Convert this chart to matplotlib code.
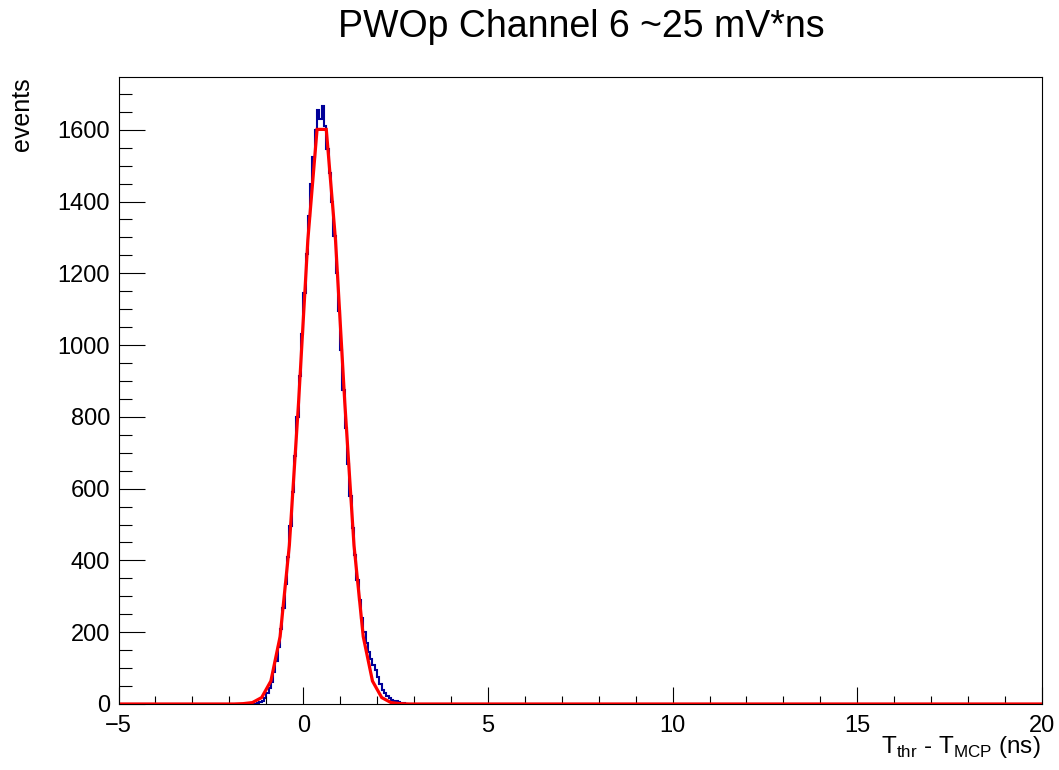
import matplotlib
matplotlib.use("Agg")
import matplotlib.pyplot as plt
import numpy as np

# histogram: 400 bins over [-5, 20] ns, only the populated stretch is listed
bin_width = 0.0625
x_range = (-5.0, 20.0)
first_edge = -1.375
counts = [0, 1, 2, 5, 9, 18, 30, 45, 62, 88, 120, 160, 210, 268, 335, 410,
          495, 590, 690, 800, 915, 1030, 1145, 1255, 1360, 1450, 1525, 1600,
          1655, 1630, 1665, 1610, 1545, 1480, 1400, 1305, 1200, 1095, 985,
          875, 770, 670, 580, 490, 415, 345, 290, 240, 200, 170, 145, 125,
          110, 95, 75, 55, 38, 30, 22, 18, 12, 9, 7, 5, 4, 2, 1]

# gaussian fit as drawn (polyline)
fit_x = [-5.0, -1.875, -1.625, -1.375, -1.125, -0.875, -0.625, -0.375, -0.125,
         0.125, 0.375, 0.625, 0.875, 1.125, 1.375, 1.625, 1.875, 2.125,
         2.375, 2.625, 2.875, 20.0]
fit_y = [0, 0, 1, 4, 18, 64, 188, 442, 841, 1292, 1601, 1601, 1292, 841,
         442, 188, 64, 18, 4, 1, 0, 0]

title = "PWOp Channel 6 ~25 mV*ns"
xlabel = r"T$_{\mathregular{thr}}$ - T$_{\mathregular{MCP}}$ (ns)"
ylabel = "events"

plt.rcParams["font.family"] = ["Liberation Sans", "DejaVu Sans"]

W, H = 1059, 770
fig = plt.figure(figsize=(W / 100, H / 100), dpi=100)
ax = fig.add_axes([118.5 / W, 1 - 704 / H, (1042 - 118.5) / W, (704 - 77) / H])

edges = np.arange(x_range[0], x_range[1] + bin_width / 2, bin_width)
full = np.zeros(len(edges) - 1)
i0 = int(round((first_edge - x_range[0]) / bin_width))
full[i0:i0 + len(counts)] = counts

ax.stairs(full, edges, color="#000099", lw=1.5)
ax.plot(fit_x, fit_y, color="#ff0000", lw=2.3, solid_joinstyle="miter")

ax.set_xlim(*x_range)
ax.set_ylim(0, 1747)
ax.set_xticks(np.arange(-5, 21, 5))
ax.set_xticks(np.arange(-5, 21, 1), minor=True)
ax.set_yticks(np.arange(0, 1700, 200))
ax.set_yticks(np.arange(0, 1750, 50), minor=True)

ax.tick_params(axis="both", which="both", direction="in", top=False, right=False,
               labelsize=17, width=0.8, color="black")
ax.tick_params(axis="x", which="major", length=12, pad=8)
ax.tick_params(axis="x", which="minor", length=6)
ax.tick_params(axis="y", which="major", length=19, pad=6)
ax.tick_params(axis="y", which="minor", length=9)
for s in ax.spines.values():
    s.set_linewidth(0.8)

fig.text(581 / W, 1 - 37 / H, title, ha="center", va="baseline", fontsize=27)
fig.text(1041 / W, 1 - 753 / H, xlabel, ha="right", va="baseline", fontsize=17.5)
fig.text(22.5 / W, 1 - 77 / H, ylabel, ha="center", va="top", rotation=90, fontsize=18)

fig.savefig("out.png", dpi=100)
